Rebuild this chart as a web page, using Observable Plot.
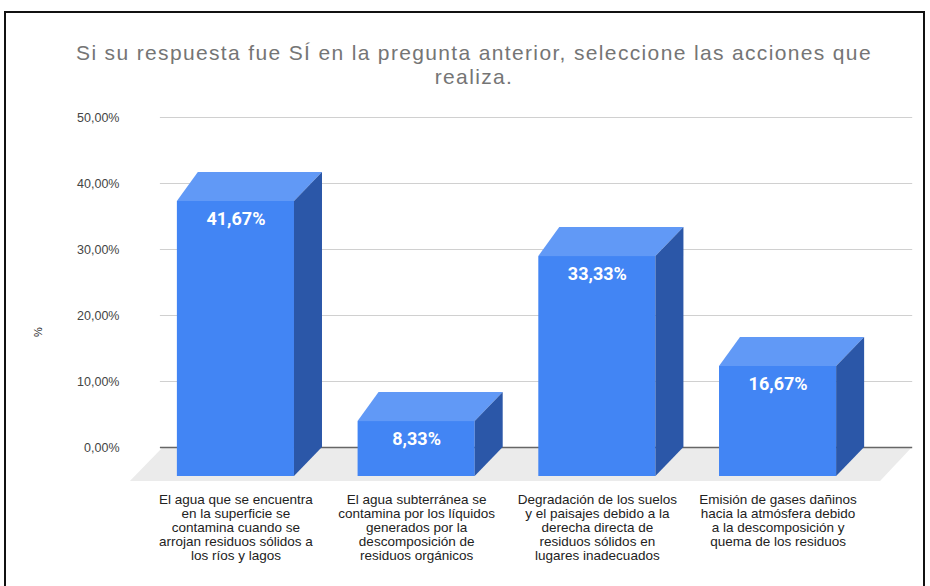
<!DOCTYPE html>
<html>
<head>
<meta charset="utf-8">
<script src="https://cdn.jsdelivr.net/npm/d3@7"></script>
<script src="https://cdn.jsdelivr.net/npm/@observablehq/plot@0.6"></script>
<style>
  html, body { margin: 0; padding: 0; background: #fff; }
  #wrap { position: relative; width: 930px; height: 586px; overflow: hidden; background: #fff; }
  #title { height: 95px; box-sizing: border-box; padding-top: 41px; padding-left: 18px; text-align: center;
           font-family: "Liberation Sans", Arial, sans-serif; font-size: 21px; line-height: 24px;
           color: #757575; letter-spacing: 1.35px; }
  #frame { position: absolute; left: 4px; top: 11px; width: 921px; height: 620px;
           border: 2px solid #111; box-sizing: border-box; pointer-events: none; }
  #chart svg { display: block; }
</style>
</head>
<body>
<div id="wrap">
  <div id="title">Si su respuesta fue SÍ en la pregunta anterior, seleccione las acciones que<br>realiza.</div>
  <div id="chart"></div>
  <div id="frame"></div>
</div>
<script>
// ---- data ----
const categories = [
  "El agua que se encuentra\nen la superficie se\ncontamina cuando se\narrojan residuos sólidos a\nlos ríos y lagos",
  "El agua subterránea se\ncontamina por los líquidos\ngenerados por la\ndescomposición de\nresiduos orgánicos",
  "Degradación de los suelos\ny el paisajes debido a la\nderecha directa de\nresiduos sólidos en\nlugares inadecuados",
  "Emisión de gases dañinos\nhacia la atmósfera debido\na la descomposición y\nquema de los residuos"
];
const values = [41.67, 8.33, 33.33, 16.67];
const valueLabels = ["41,67%", "8,33%", "33,33%", "16,67%"];
const tickValues = [0, 10, 20, 30, 40, 50];
const tickLabels = ["0,00%", "10,00%", "20,00%", "30,00%", "40,00%", "50,00%"];
const axisTitle = "%";

// ---- 3D geometry (data units of the x index scale and y % scale) ----
const HW = 0.324;      // half width of a bar front
const DXL = 0.116;     // depth shift of left back edge
const DXR = 0.155;     // depth shift of right back edge
const DY = 4.39;       // depth shift upward (in %)

const rows = categories.map((c, i) => ({i, cat: c, value: values[i], label: valueLabels[i]}));

const topFaces = rows.flatMap(d => [
  {i: d.i, x: d.i - HW,       y1: d.value,      y2: d.value},
  {i: d.i, x: d.i - HW + DXL, y1: d.value,      y2: d.value + DY},
  {i: d.i, x: d.i + HW,       y1: d.value,      y2: d.value + DY},
  {i: d.i, x: d.i + HW + DXR, y1: d.value + DY, y2: d.value + DY}
]);
const sideFaces = rows.flatMap(d => [
  {i: d.i, x: d.i + HW,       y1: 0,  y2: d.value},
  {i: d.i, x: d.i + HW + DXR, y1: DY, y2: d.value + DY}
]);
const floorFront = -0.76;
const floor = [
  {x: -0.584, y1: floorFront, y2: floorFront},
  {x: -0.401, y1: floorFront, y2: DY},
  {x: 3.567,  y1: floorFront, y2: DY},
  {x: 3.744,  y1: DY,         y2: DY}
];
const gridX1 = -0.418, gridX2 = 3.745;

const sans = "'Liberation Sans', Arial, sans-serif";

const chart = Plot.plot({
  width: 930,
  height: 491,
  marginTop: 18,
  marginBottom: 110,
  marginLeft: 127,
  marginRight: 44,
  x: {type: "linear", domain: [-0.6, 3.6], axis: null},
  y: {type: "linear", domain: [0, 55], axis: null},
  style: {fontFamily: sans, background: "transparent"},
  marks: [
    Plot.area(floor, {x1: "x", y1: "y1", y2: "y2", fill: "#ebebeb"}),
    Plot.ruleY(tickValues.filter(t => t > 0), {y: d => d + DY, x1: gridX1, x2: gridX2, stroke: "#d0d0d0", strokeWidth: 1}),
    Plot.ruleY([0], {y: d => d + DY, x1: gridX1, x2: gridX2, stroke: "#666", strokeWidth: 1.5}),
    Plot.text(tickValues, {y: d => d + DY, text: (d, i) => tickLabels[i], frameAnchor: "left", textAnchor: "end", dx: -8,
      fill: "#444", fontSize: 12.5, style: "letter-spacing:1.4px"}),
    Plot.text([axisTitle], {frameAnchor: "left", dx: -89, dy: 42, rotate: -90, fill: "#222", fontSize: 11}),
    Plot.rect(rows, {x1: d => d.i - HW, x2: d => d.i + HW, y1: () => 0, y2: "value", fill: "#4285f4"}),
    Plot.area(topFaces, {x1: "x", y1: "y1", y2: "y2", z: "i", fill: "#6199f6"}),
    Plot.area(sideFaces, {x1: "x", y1: "y1", y2: "y2", z: "i", fill: "#2b57a8"}),
    Plot.text(rows, {x: "i", y: "value", text: "label", dy: 18, fill: "#fff", fontSize: 18, fontWeight: 700,
      fontFamily: "Roboto, 'Liberation Sans', sans-serif", style: "letter-spacing:1.4px"}),
    Plot.text(rows, {x: "i", y: () => 0, text: "cat", lineAnchor: "top", dy: 17, fill: "#222", fontSize: 13.5,
      lineHeight: 1.05, style: "letter-spacing:1px"})
  ]
});
document.getElementById("chart").appendChild(chart);
</script>
</body>
</html>
